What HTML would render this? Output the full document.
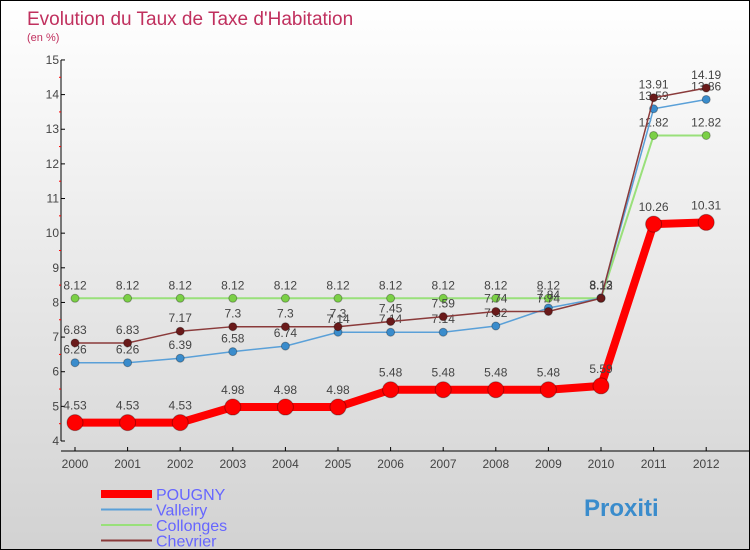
<!DOCTYPE html>
<html><head><meta charset="utf-8"><style>
body{margin:0}
#c{width:748px;height:548px;border:1px solid #000;background:linear-gradient(#fff,#d2d2d2);position:relative;overflow:hidden;font-family:"Liberation Sans",sans-serif}
</style></head><body>
<div id="c">
<svg id="s" width="748" height="548"></svg>
</div>
<script>
const years=[2000,2001,2002,2003,2004,2005,2006,2007,2008,2009,2010,2011,2012];
const pougny=[4.53,4.53,4.53,4.98,4.98,4.98,5.48,5.48,5.48,5.48,5.59,10.26,10.31];
const valleiry=[6.26,6.26,6.39,6.58,6.74,7.14,7.14,7.14,7.32,7.84,8.13,13.59,13.86];
const collonges=[8.12,8.12,8.12,8.12,8.12,8.12,8.12,8.12,8.12,8.12,8.12,12.82,12.82];
const chevrier=[6.83,6.83,7.17,7.3,7.3,7.3,7.45,7.59,7.74,7.74,8.12,13.91,14.19];
const yTicks=[4,5,6,7,8,9,10,11,12,13,14,15];
const NS="http://www.w3.org/2000/svg";
const s=document.getElementById('s');
const X=i=>74+i*52.6, Y=v=>440-(v-4)*34.64;
function el(t,a,p){const e=document.createElementNS(NS,t);for(const k in a)e.setAttribute(k,a[k]);(p||s).appendChild(e);return e;}
let t=el('text',{x:26,y:24,'font-size':19,fill:'#c0305e'});t.textContent="Evolution du Taux de Taxe d'Habitation";

t=el('text',{x:26,y:40,'font-size':11,fill:'#c0305e'});t.textContent="(en %)";

let ax=el('g',{});
el('line',{x1:60,y1:Y(15),x2:60,y2:Y(4),stroke:'#000'},ax);
yTicks.forEach(v=>{el('line',{x1:60,x2:64,y1:Y(v),y2:Y(v),stroke:'#000'},ax);
 if(v<15)el('line',{x1:58,x2:60,y1:Y(v+0.5),y2:Y(v+0.5),stroke:'#f00'},ax);
 const l=el('text',{x:58,y:Y(v)+4,'font-size':12,fill:'#444','text-anchor':'end'},ax);l.textContent=v;});
let xa=el('g',{});
el('line',{x1:60,y1:450,x2:748,y2:450,stroke:'#000'},xa);
years.forEach((y,i)=>{el('line',{x1:X(i),x2:X(i),y1:446,y2:450,stroke:'#000'},xa);
 const l=el('text',{x:X(i),y:467,'font-size':12,fill:'#444','text-anchor':'middle'},xa);l.textContent=y;});
function series(name,d,col,w,r,dot){
 const g=el('g',{});
 el('polyline',{points:d.map((v,i)=>X(i)+','+Y(v)).join(' '),fill:'none',stroke:col,'stroke-width':w},g);
 d.forEach((v,i)=>{const c=el('circle',{cx:X(i),cy:Y(v),r:r,fill:dot,stroke:'rgba(0,0,0,0.3)'},g);
  
  const l=el('text',{x:X(i),y:Y(v)-(r+5),'font-size':12,fill:'#444','text-anchor':'middle'},g);l.textContent=v;});
}
series('collonges',collonges,'#99e07a',2,4,'#7bd046');
series('valleiry',valleiry,'#5aa0d8',1.5,4,'#3a8ccc');
series('chevrier',chevrier,'#8a3a3a',1.5,4,'#6a1a1a');
series('pougny',pougny,'#f00',8,8,'#f00');
const leg=[['POUGNY','#f00',8],['Valleiry','#5aa0d8',2],['Collonges','#99e07a',2],['Chevrier','#8a3a3a',2]];
leg.forEach((L,i)=>{const g=el('g',{});
 const y=492+i*15.5;el('line',{x1:100,x2:151,y1:y+1,y2:y+1,stroke:L[1],'stroke-width':L[2]},g);
 const tx=el('text',{x:155,y:y+7,'font-size':16,fill:'#66f'},g);tx.textContent=L[0];});
let lg=el('text',{x:583,y:515,'font-size':24,'font-weight':'bold',fill:'#3a8ccc'});lg.textContent="Proxiti";

</script>
</body></html>
